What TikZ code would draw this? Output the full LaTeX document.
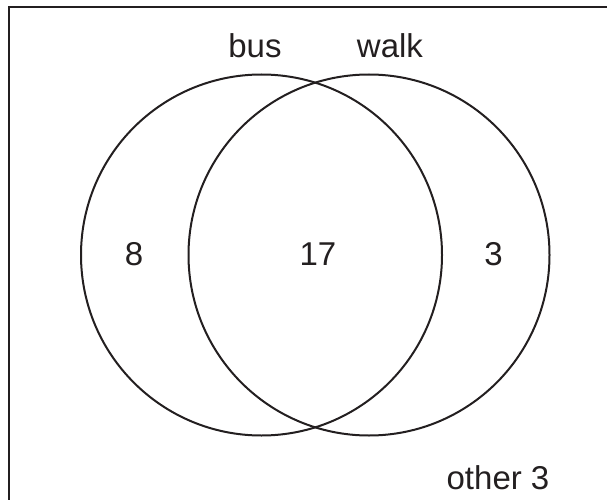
\documentclass[tikz,border=0pt]{standalone}
\usepackage{fontspec}
\setmainfont{Liberation Sans}
\definecolor{vennink}{HTML}{231F20}
\tikzset{
  vennset/.style={circle,draw=vennink,line width=2pt,minimum size=361pt,inner sep=0pt},
  venntext/.style={font=\fontsize{33}{40}\selectfont,text=vennink,anchor=base,inner sep=0pt},
}
\begin{document}
\begin{tikzpicture}[x=1pt,y=-1pt]
  \useasboundingbox (0,0) rectangle (607,500);
  % frame, cut off at the right and at the bottom
  \draw[vennink,line width=2.6pt] (607,7) -| (9,500);
  \node[vennset] (bus) at (261.5,255) {};
  \node[vennset] (walk) at (369,255) {};
  \node[venntext] (busname) at (255,57.5) {bus};
  \node[venntext] (walkname) at (390,57.5) {walk};
  \node[venntext] (onlybus) at (134,265.5) {8};
  \node[venntext] (both) at (318,265.5) {17};
  \node[venntext] (onlywalk) at (493.5,265.5) {3};
  \node[venntext] (other) at (498,489) {other 3};
\end{tikzpicture}
\end{document}
